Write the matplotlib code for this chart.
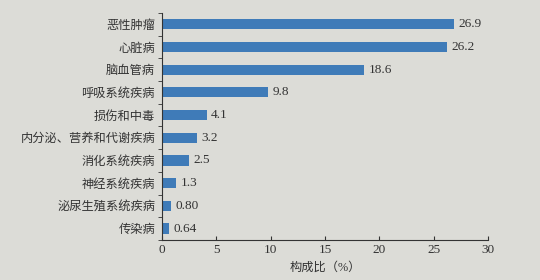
import matplotlib.pyplot as plt

plt.rcParams['font.family'] = ['Liberation Serif', 'Noto Sans CJK SC']

categories = ['恶性肿瘤', '心脏病', '脑血管病', '呼吸系统疾病', '损伤和中毒',
              '内分泌、营养和代谢疾病', '消化系统疾病', '神经系统疾病',
              '泌尿生殖系统疾病', '传染病']
values = [26.9, 26.2, 18.6, 9.8, 4.1, 3.2, 2.5, 1.3, 0.80, 0.64]
value_labels = ['26.9', '26.2', '18.6', '9.8', '4.1', '3.2', '2.5', '1.3', '0.80', '0.64']
x_ticks = [0, 5, 10, 15, 20, 25, 30]

bg = '#dcdcd7'
bar_color = '#3f7bb8'
text_color = '#333333'

fig = plt.figure(figsize=(5.4, 2.8), dpi=100, facecolor=bg)
ax = fig.add_axes([0.3, 0.143, 0.6037, 0.811], facecolor=bg)

pos = list(range(len(categories)))
ax.barh(pos, values, height=0.45, color=bar_color)
for p, v, lab in zip(pos, values, value_labels):
    ax.text(v + 0.4, p, lab, va='center', ha='left', fontsize=9.5, color=text_color)

ax.set_ylim(len(categories) - 0.5, -0.5)
ax.set_xlim(0, 30)
ax.set_xticks(x_ticks)
ax.set_xticklabels([str(t) for t in x_ticks], fontsize=9.5, color=text_color)
ax.tick_params(axis='x', direction='in', length=3, color=text_color, pad=3)

# category labels without ticks, ticks sit between categories
ax.set_yticks(pos)
ax.set_yticklabels(categories, fontsize=8.8, color=text_color)
ax.tick_params(axis='y', which='major', length=0, pad=5)
ax.set_yticks([p - 0.5 for p in pos] + [len(categories) - 0.5], minor=True)
ax.tick_params(axis='y', which='minor', direction='out', length=3, color=text_color)

ax.spines['top'].set_visible(False)
ax.spines['right'].set_visible(False)
for s in ('left', 'bottom'):
    ax.spines[s].set_color(text_color)
    ax.spines[s].set_linewidth(0.8)

ax.set_xlabel('构成比（%）', fontsize=8.8, color=text_color, labelpad=4)

fig.savefig('out.png', dpi=100, facecolor=bg)
